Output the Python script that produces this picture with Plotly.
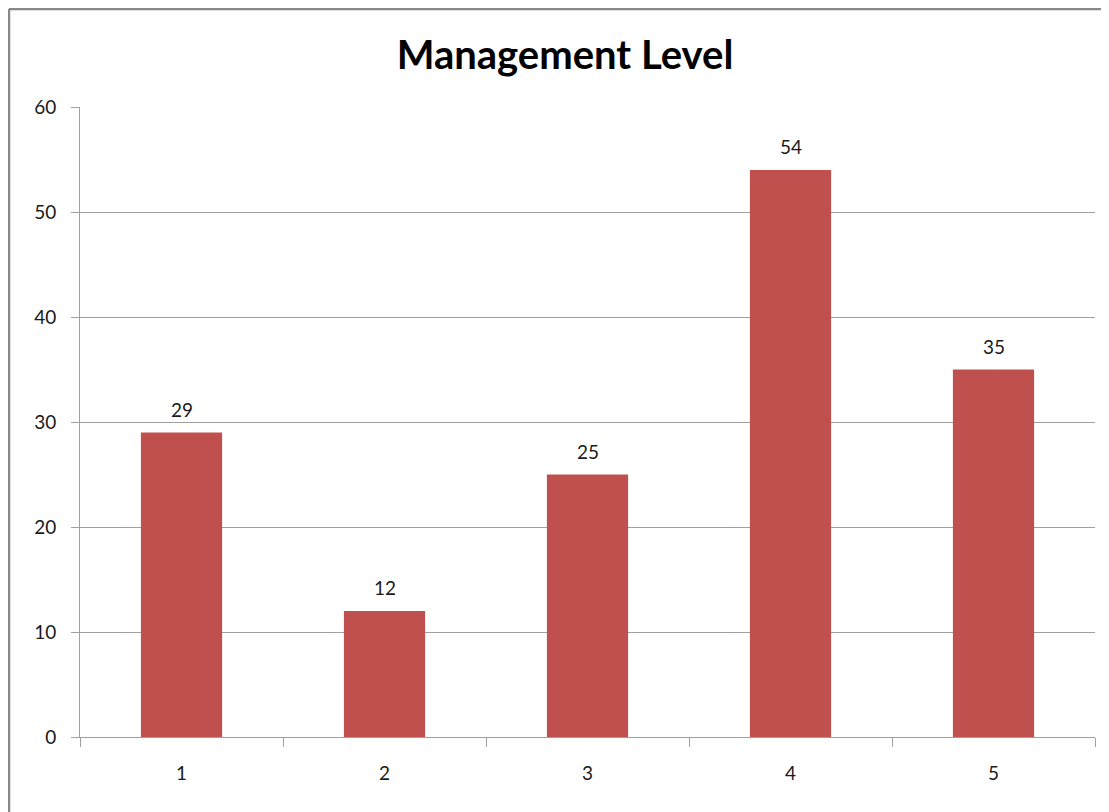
import plotly.graph_objects as go

categories = ["1", "2", "3", "4", "5"]
values = [29, 12, 25, 54, 35]
y_ticks = [0, 10, 20, 30, 40, 50, 60]

# page body adds an 8px offset; figure sized to fit the window
W, H = 1101, 804
ml, mr, mt, mb = 72, 14, 99, 75
pw = W - ml - mr
ph = H - mt - mb

def px_to_paper_x(px):
    return (px - ml) / pw

def px_to_paper_y(py):
    return (H - mb - py) / ph

FONT = "Lato, Open Sans, sans-serif"

fig = go.Figure(go.Bar(
    x=categories, y=values,
    marker=dict(color="#C0504D", line=dict(width=0)),
    width=0.4,
    hoverinfo="x+y",
))

for i, v in enumerate(values):
    fig.add_annotation(x=i, y=v, text=str(v), showarrow=False,
                       yanchor="bottom", yshift=10,
                       font=dict(family=FONT, size=19, color="#1a1a1a"))

fig.update_layout(
    width=W, height=H,
    margin=dict(l=ml, r=mr, t=mt, b=mb),
    paper_bgcolor="white", plot_bgcolor="white",
    showlegend=False,
    title=dict(text="<b>Management Level</b>", x=557 / W, xref="container", xanchor="center",
               y=1 - 47 / H, yref="container", yanchor="middle",
               font=dict(family=FONT, size=40, color="#000")),
    font=dict(family=FONT, size=19, color="#1a1a1a"),
)
fig.update_xaxes(
    type="category", categoryorder="array", categoryarray=categories,
    range=[-0.5, len(categories) - 0.5],
    tickson="boundaries", ticks="outside", ticklen=9,
    tickcolor="#A0A0A0", showline=True, linecolor="#A0A0A0", linewidth=1,
    showgrid=False, tickfont=dict(size=19, color="#1a1a1a"), ticklabelstandoff=19,
)
fig.update_yaxes(
    range=[0, 60], tickvals=y_ticks, ticks="outside", ticklen=8, tickcolor="#A0A0A0",
    showline=True, linecolor="#A0A0A0", linewidth=1,
    showgrid=True, gridcolor="#A0A0A0", gridwidth=1, zeroline=False,
    tickfont=dict(size=19, color="#1a1a1a"), ticklabelstandoff=11,
)

bx = px_to_paper_x(1)
by = px_to_paper_y(1)
fig.add_shape(type="line", xref="paper", yref="paper", x0=bx, x1=bx, y0=px_to_paper_y(H + 5), y1=by,
              line=dict(color="#888888", width=2.5))
fig.add_shape(type="line", xref="paper", yref="paper", x0=bx, x1=px_to_paper_x(W + 5), y0=by, y1=by,
              line=dict(color="#888888", width=2.5))

fig.write_html("out.html")
